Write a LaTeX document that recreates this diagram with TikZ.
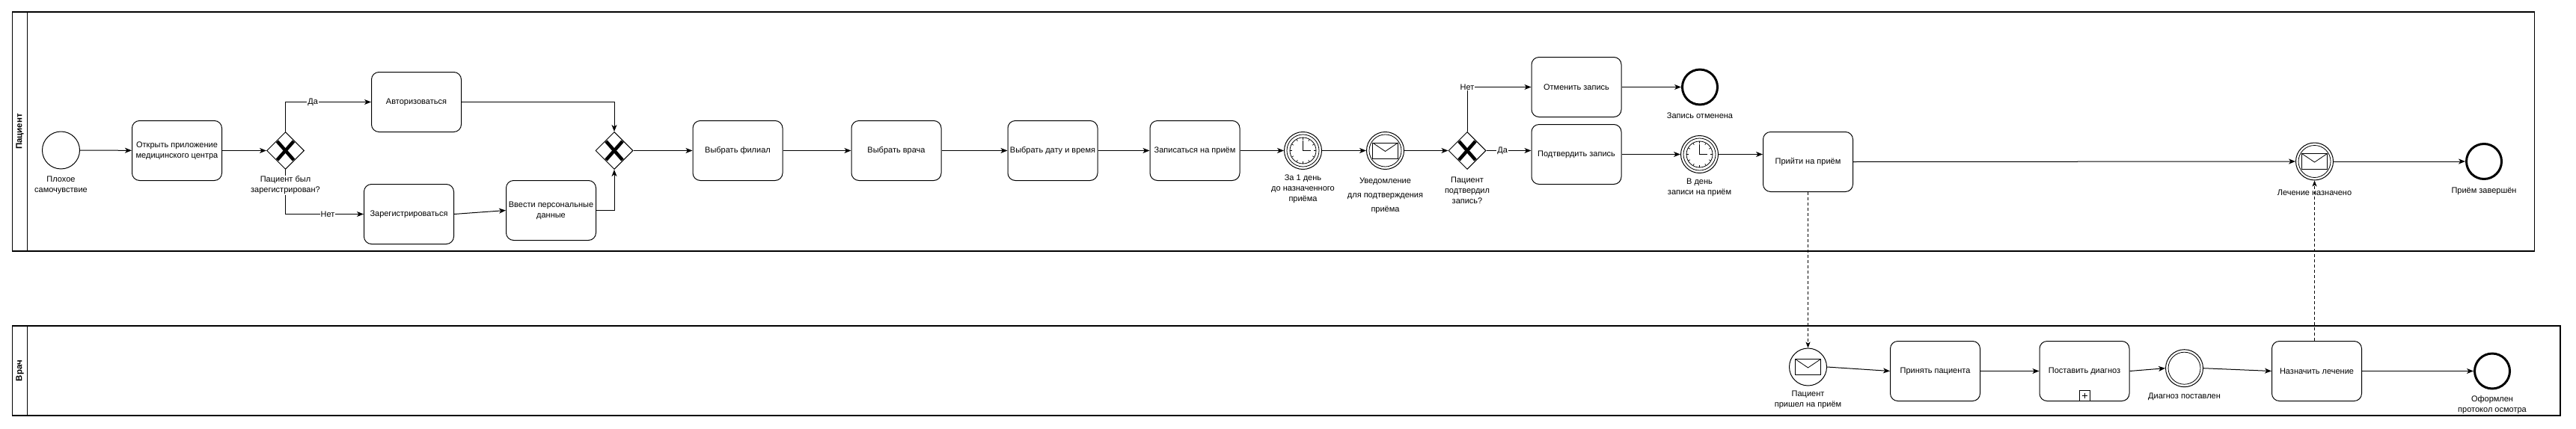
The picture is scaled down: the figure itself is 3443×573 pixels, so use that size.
\documentclass[tikz,border=0pt]{standalone}
\usepackage{fontspec}
\setmainfont{Liberation Sans}
\usetikzlibrary{shapes.geometric,arrows.meta}

\newcommand{\clockicon}[1]{%
 \begin{scope}[shift={(#1.center)}]
  \draw[line width=0.8pt] (0,0) circle[radius=21.5];
  \draw[line width=0.8pt] (0,0) circle[radius=17.5];
  \foreach \a in {0,30,...,330} \draw[line width=0.6pt] (\a:14.5) -- (\a:17.5);
  \draw[line width=1pt] (0,0) -- (0,-14) (0,0) -- (10,0);
 \end{scope}}
\newcommand{\envicon}[1]{%
 \begin{scope}[shift={(#1.center)}]
  \draw[line width=0.8pt, fill=white] (-17,-10.5) rectangle (17,10.5);
  \draw[line width=0.8pt] (-17,-10.5) -- (0,1) -- (17,-10.5);
 \end{scope}}
\newcommand{\innerring}[1]{\draw[line width=0.8pt] (#1.center) circle[radius=21.5];}
\newcommand{\xcross}[1]{%
 \begin{scope}[shift={(#1.center)}]
  \draw[line width=4.5pt] (-11,-12.5) -- (11,12.5) (-11,12.5) -- (11,-12.5);
 \end{scope}}

\begin{document}
\begin{tikzpicture}[x=1pt,y=-1pt,
  every node/.style={font=\fontsize{11}{14}\selectfont},
  task/.style={draw, rounded corners=10pt, line width=1pt, minimum width=120pt, minimum height=80pt, align=center, inner sep=1pt},
  gw/.style={draw, diamond, line width=1pt, minimum width=50pt, minimum height=50pt, inner sep=0pt, aspect=1},
  ev/.style={draw, circle, line width=1pt, minimum size=50pt, inner sep=0pt},
  endev/.style={draw, circle, line width=3pt, minimum size=47pt, inner sep=0pt},
  lbl/.style={align=center, inner sep=0pt},
  flow/.style={draw, line width=1pt, -{Stealth[length=9pt,width=7pt,inset=2.5pt]}},
  msgflow/.style={draw, line width=0.8pt, dash pattern=on 4pt off 3pt, -{Stealth[length=8pt,width=6pt,inset=2pt]}},
  elbl/.style={fill=white, inner sep=1pt},
  pool/.style={draw, line width=1.3pt}
]
\useasboundingbox (0,0) rectangle (3443,573);

% pools
\draw[pool] (16.5,16) rectangle (3387.5,336);
\draw[pool] (36.4,16) -- (36.4,336);
\node[rotate=90, font=\bfseries\fontsize{11.5}{14}\selectfont] (lanep) at (26.5,176) {Пациент};
\draw[pool] (16.5,436) rectangle (3422,556);
\draw[pool] (36.4,436) -- (36.4,556);
\node[rotate=90, font=\bfseries\fontsize{11.5}{14}\selectfont] (laned) at (26.5,496) {Врач};

% patient lane
\node[ev] (start) at (81.5,201) {};
\node[lbl] (startl) at (81.5,247.5) {Плохое\\самочувствие};
\node[task] (open) at (236.5,201.5) {Открыть приложение\\медицинского центра};
\node[gw] (gw1) at (381.5,201.5) {};
\node[task] (auth) at (556.5,136.5) {Авторизоваться};
\node[task] (reg) at (546.5,286.5) {Зарегистрироваться};
\node[task] (pers) at (736.5,281.5) {Ввести персональные\\данные};
\node[gw] (gw2) at (821,201.5) {};
\node[task] (branch) at (986,201.5) {Выбрать филиал};
\node[task] (doctor) at (1198,201.5) {Выбрать врача};
\node[task] (datetime) at (1407,201.5) {Выбрать дату и время};
\node[task] (book) at (1597,201.5) {Записаться на приём};
\node[ev] (timer1) at (1741.5,201.5) {};
\node[lbl] (timer1l) at (1741.5,252.5) {За 1 день\\до назначенного\\приёма};
\node[ev] (msg1) at (1851.5,201.5) {};
\node[lbl, font=\fontsize{11}{19}\selectfont] (msg1l) at (1851.5,262) {Уведомление\\для подтверждения\\приёма};
\node[gw] (gw3) at (1961,201.5) {};
\node[lbl] (gw3l) at (1961,255) {Пациент\\подтвердил\\запись?};
\node[task] (cancel) at (2107,116.5) {Отменить запись};
\node[endev] (endc) at (2272,116.5) {};
\node[lbl] (endcl) at (2272,155) {Запись отменена};
\node[task] (confirm) at (2107,206.5) {Подтвердить запись};
\node[ev] (timer2) at (2271.5,206.5) {};
\node[lbl] (timer2l) at (2271.5,251) {В день\\записи на приём};
\node[task] (visit) at (2416.5,216.5) {Прийти на приём};
\node[ev] (msg2) at (3093.5,216) {};
\node[lbl] (msg2l) at (3093.5,258) {Лечение назначено};
\node[endev] (end1) at (3320,216) {};
\node[lbl] (end1l) at (3320,256) {Приём завершён};

% doctor lane
\node[ev] (mstart) at (2416.5,491) {};
\node[lbl] (mstartl) at (2416.5,535) {Пациент\\пришел на приём};
\node[task] (accept) at (2586.5,496.5) {Принять пациента};
\node[task] (diag) at (2786,496.5) {Поставить диагноз};
\node[ev] (devt) at (2919.5,492.7) {};
\node[lbl] (devtl) at (2919.5,531) {Диагноз поставлен};
\node[task] (treat) at (3096.5,496.5) {Назначить лечение};
\node[endev] (end2) at (3331,496.5) {};
\node[lbl] (end2l) at (3331,541.5) {Оформлен\\протокол осмотра};

% icons
\xcross{gw1}
\xcross{gw2}
\xcross{gw3}
\clockicon{timer1}
\clockicon{timer2}
\innerring{msg1}\envicon{msg1}
\innerring{msg2}\envicon{msg2}
\envicon{mstart}
\innerring{devt}
\draw[line width=0.8pt] (2779.5,522.5) rectangle (2793,536);
\draw[line width=0.8pt] (2786.25,525.5) -- (2786.25,533) (2782.5,529.25) -- (2790,529.25);

% flows
\path[flow] (start) -- (open);
\path[flow] (open) -- (gw1);
\path[flow] (gw1.north) |- node[elbl, pos=0.66] (lda1) {Да} (auth.west);
\path[flow] (gw1.south) |- node[elbl, pos=0.77] (lnet1) {Нет} (reg.west);
\path[flow] (auth.east) -| (gw2.north);
\path[flow] (reg.east) -- (pers.west);
\path[flow] (pers.east) -| (gw2.south);
\path[flow] (gw2) -- (branch);
\path[flow] (branch) -- (doctor);
\path[flow] (doctor) -- (datetime);
\path[flow] (datetime) -- (book);
\path[flow] (book) -- (timer1);
\path[flow] (timer1) -- (msg1);
\path[flow] (msg1) -- (gw3);
\path[flow] (gw3.north) |- node[elbl, pos=0.5] (lnet2) {Нет} (cancel.west);
\path[flow] (gw3.east) -- node[elbl, pos=0.36] (lda2) {Да} (confirm.west |- gw3.east);
\path[flow] (cancel) -- (endc);
\path[flow] (confirm) -- (timer2);
\path[flow] (timer2.east) -- (visit.west |- timer2.east);
\path[flow] (visit.east) -- (msg2.west);
\path[flow] (msg2) -- (end1);
\path[msgflow] (visit.south) -- (mstart.north);
\path[flow] (mstart.east) -- (accept.west);
\path[flow] (accept) -- (diag);
\path[flow] (diag.east) -- (devt.west);
\path[flow] (devt.east) -- (treat.west);
\path[msgflow] (msg2.south |- treat.north) -- (msg2.south);
\path[flow] (treat) -- (end2);

% gateway label over its connector
\node[lbl, fill=white, inner sep=1pt] (gw1l) at (381.5,248) {Пациент был\\зарегистрирован?};
\end{tikzpicture}
\end{document}
